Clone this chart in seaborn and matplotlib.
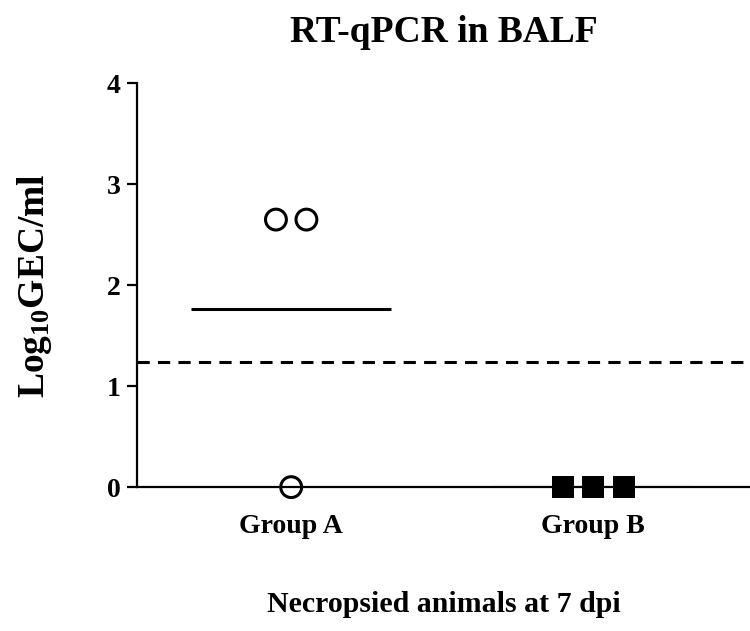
import seaborn as sns
import matplotlib.pyplot as plt
import pandas as pd

# data
groups = ["Group A", "Group B"]
group_a_values = [2.65, 2.65, 0.0]
group_b_values = [0.0, 0.0, 0.0]
detection_limit = 1.24

df = pd.DataFrame({
    "group": ["Group A"] * len(group_a_values) + ["Group B"] * len(group_b_values),
    "value": group_a_values + group_b_values,
})

# position sur l'axe : index du groupe + décalage symétrique des points identiques
spacing = 0.101
df["code"] = df["group"].map({g: i for i, g in enumerate(groups)})
rank = df.groupby(["group", "value"]).cumcount()
count = df.groupby(["group", "value"])["value"].transform("size")
df["pos"] = df["code"] + (rank - (count - 1) / 2) * spacing

means = df.groupby("group", sort=False)["value"].mean().reindex(groups).reset_index()
means["code"] = range(len(groups))

sns.set_style("ticks", {"axes.edgecolor": "black", "text.color": "black",
                        "axes.labelcolor": "black", "xtick.color": "black",
                        "ytick.color": "black"})
plt.rcParams["font.family"] = ["Liberation Serif", "DejaVu Serif"]
plt.rcParams["font.weight"] = "bold"
plt.rcParams["mathtext.fontset"] = "custom"
plt.rcParams["mathtext.rm"] = "Liberation Serif:bold"
plt.rcParams["mathtext.it"] = "Liberation Serif:bold"
plt.rcParams["mathtext.bf"] = "Liberation Serif:bold"

fig = plt.figure(figsize=(7.5, 6.31), dpi=100)
ax = fig.add_axes([0.183, 0.228, 0.817, 0.64])

# Group A : cercles vides
sns.scatterplot(data=df[df["group"] == "Group A"], x="pos", y="value", marker="o",
                s=15 ** 2, facecolor="none", edgecolor="black", linewidth=2.2,
                clip_on=False, zorder=4, ax=ax)

# Group B : carrés pleins
sns.scatterplot(data=df[df["group"] == "Group B"], x="pos", y="value", marker="s",
                s=16 ** 2, color="black", linewidth=0, clip_on=False, zorder=4, ax=ax)

# moyenne par groupe
sns.scatterplot(data=means, x="code", y="value", marker="_", s=144 ** 2,
                color="black", linewidth=2.2, zorder=3, ax=ax)

ax.axhline(detection_limit, color="black", lw=2.2, dashes=(4, 2.7))

ax.set_xlim(-0.51, 1.52)
ax.set_ylim(0, 4)
ax.set_yticks([0, 1, 2, 3, 4])
ax.set_xticks(range(len(groups)), groups)
sns.despine(ax=ax)
for side in ["left", "bottom"]:
    ax.spines[side].set_linewidth(1.6)
ax.tick_params(axis="y", length=7, width=1.6, labelsize=20, pad=5)
ax.tick_params(axis="x", length=0, labelsize=20, pad=19)

ax.set_title("RT-qPCR in BALF", fontsize=27, fontweight="bold", pad=30)
ax.set_xlabel("Necropsied animals at 7 dpi", fontsize=21.5, fontweight="bold", labelpad=38)
ax.set_ylabel("Log$_{10}$GEC/ml", fontsize=27, fontweight="bold", labelpad=38)

fig.savefig("out.png", dpi=100)
